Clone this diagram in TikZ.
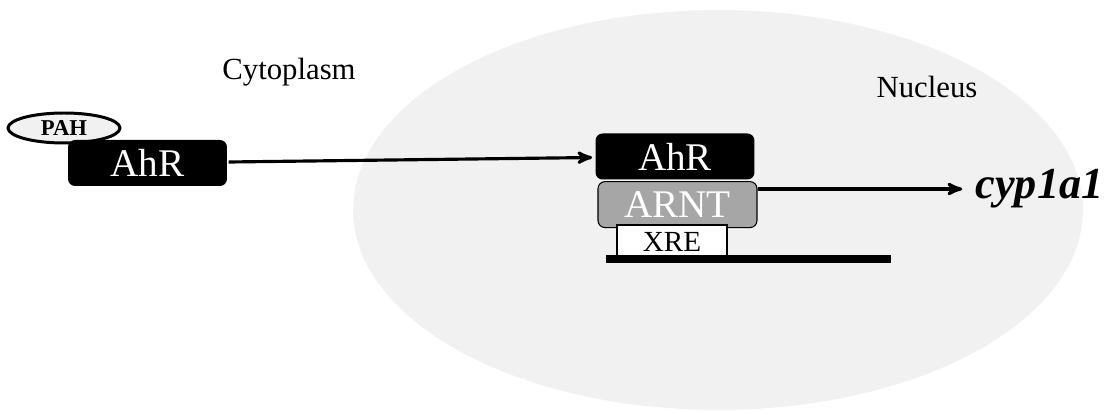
\documentclass[tikz,border=0pt]{standalone}
\usepackage{fontspec}
\setmainfont{Liberation Serif}
\usetikzlibrary{arrows,shapes.geometric}
\usetikzlibrary{positioning}

\definecolor{nucgray}{RGB}{241,241,241}
\definecolor{arntgray}{RGB}{166,166,166}

\begin{document}
\begin{tikzpicture}[->,>=stealth',shorten >=1pt,x=0.02cm,y=-0.02cm,line width=1.8pt]
            % 设置节点样式
            \tikzstyle{box}=[rectangle,rounded corners=4pt,inner sep=0pt,minimum width=3.18cm,minimum height=0.92cm,font=\fontsize{22.3}{24}\selectfont]
            \tikzstyle{ahr}=[box,fill=black,text=white]
            \tikzstyle{arnt}=[box,fill=arntgray,draw=black,line width=0.6pt,text=white]
            \tikzstyle{xre}=[rectangle,fill=white,draw=black,line width=0.8pt,inner sep=0pt,minimum width=2.2cm,minimum height=0.68cm,font=\fontsize{16.6}{18}\selectfont]
            \tikzstyle{pah}=[ellipse,fill=nucgray,draw=black,line width=1.7pt,inner sep=0pt,minimum width=2.24cm,minimum height=0.6cm,font=\bfseries\fontsize{12.9}{14}\selectfont]
            \tikzstyle{region}=[font=\fontsize{17.5}{20}\selectfont]
            \tikzstyle{gene}=[anchor=west,inner sep=0.2cm,font=\bfseries\itshape\fontsize{25.2}{27}\selectfont]

            \useasboundingbox (0,0) rectangle (1105,411);
            % 细胞核
            \fill[nucgray] (718,210) ellipse [x radius=7.3cm,y radius=4cm];

            % 定义节点
            \node[region] (Cy) at (289,72) {Cytoplasm};
            \node[region] (Nu) at (927,87) {Nucleus};
            \node[pah] (P) at (64,128) {PAH};
            \node[ahr] (A) at (147.5,163) {AhR}; % 胞质中的受体
            \node[ahr] (B) at (675,156.5) {AhR};
            \node[arnt] (C) [below=0pt of B,xshift=0.05cm] {ARNT};
            \node[xre] (X) [below=-0.08cm of C,xshift=-0.11cm] {XRE};
            \node[gene] (G) at (964,189) {cyp1a1};

            % DNA
            \coordinate (D1) at (606,259);
            \coordinate (D2) at (891,259);
            \draw[-,shorten >=0pt,line width=0.15cm] (D1) -- (D2);

            % 定义路径
            \path
            (A) edge (B);
            \draw (C.east |- G.west) -- (G.west);
        \end{tikzpicture}
\end{document}
